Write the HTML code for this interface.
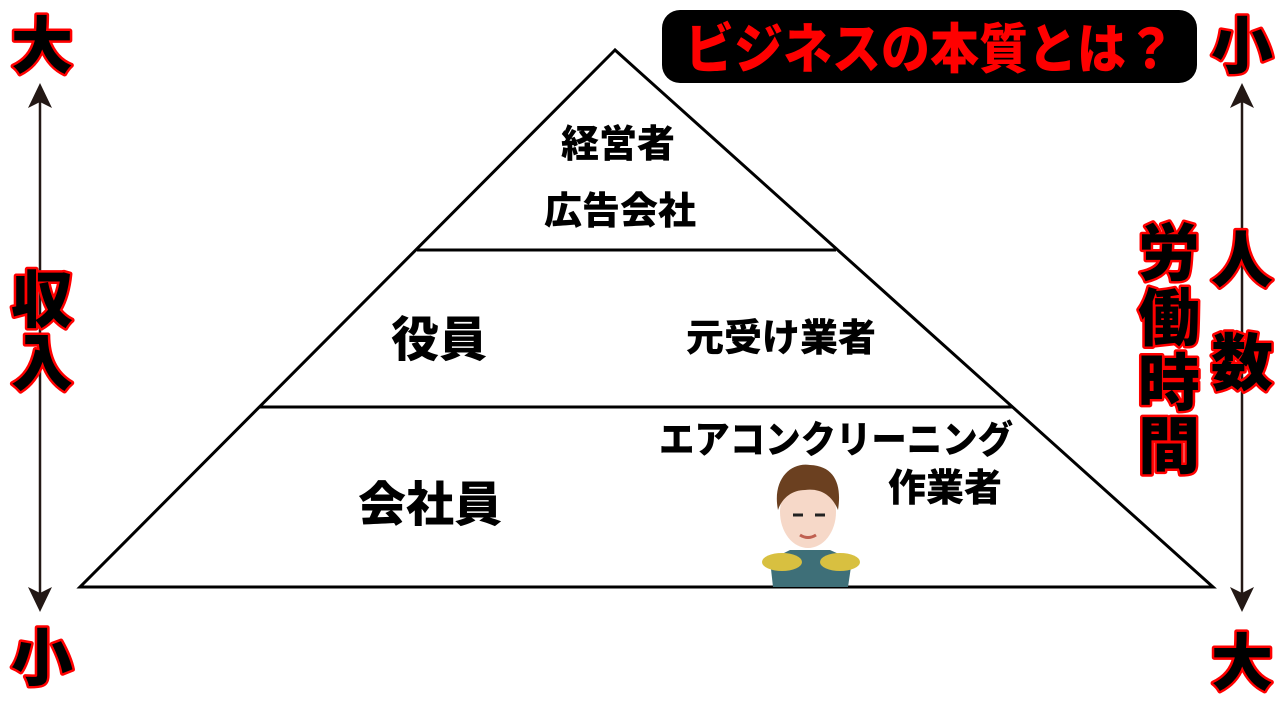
<!DOCTYPE html>
<html><head><meta charset="utf-8"><style>
html,body{margin:0;padding:0;background:#fff;}
svg{display:block;}
text{font-family:"Liberation Sans","Noto Sans CJK JP",sans-serif;font-weight:900;}
.side{font-size:62px;fill:#000;stroke:#f00;stroke-width:5px;paint-order:stroke;stroke-linejoin:round;}
.lbl{font-size:38px;fill:#000;}
.big{font-size:48px;fill:#000;}
</style></head><body>
<svg width="1280" height="720" viewBox="0 0 1280 720">
<polygon points="615,50 80,587 1213,587" fill="none" stroke="#000" stroke-width="3"/>
<line x1="417" y1="250" x2="836" y2="250" stroke="#000" stroke-width="3"/>
<line x1="260" y1="407" x2="1012" y2="407" stroke="#000" stroke-width="3"/>
<rect x="662" y="10" width="535" height="73" rx="18" fill="#000"/>
<text x="930" y="68" text-anchor="middle" font-size="54" fill="#f00" textLength="490" lengthAdjust="spacingAndGlyphs">ビジネスの本質とは？</text>
<line x1="40" y1="95" x2="40" y2="600" stroke="#231815" stroke-width="2.5"/>
<polygon points="40,83 28,108 40,102 52,108" fill="#231815"/>
<polygon points="40,612 28,587 40,593 52,587" fill="#231815"/>
<line x1="1242" y1="95" x2="1242" y2="600" stroke="#231815" stroke-width="2.5"/>
<polygon points="1242,83 1230,108 1242,102 1254,108" fill="#231815"/>
<polygon points="1242,612 1230,587 1242,593 1254,587" fill="#231815"/>
<text class="side" x="42" y="68" text-anchor="middle">大</text>
<text class="side" x="42" y="322" text-anchor="middle">収</text>
<text class="side" x="42" y="385" text-anchor="middle">入</text>
<text class="side" x="42" y="680" text-anchor="middle">小</text>
<text class="side" x="1242" y="68" text-anchor="middle">小</text>
<text class="side" x="1242" y="282" text-anchor="middle">人</text>
<text class="side" x="1242" y="385" text-anchor="middle">数</text>
<text class="side" x="1242" y="685" text-anchor="middle">大</text>
<text class="side" x="1169" y="275" text-anchor="middle">労</text>
<text class="side" x="1169" y="340" text-anchor="middle">働</text>
<text class="side" x="1169" y="405" text-anchor="middle">時</text>
<text class="side" x="1169" y="468" text-anchor="middle">間</text>
<text class="lbl" x="618" y="157" text-anchor="middle">経営者</text>
<text class="lbl" x="620" y="224" text-anchor="middle">広告会社</text>
<text class="big" x="439" y="356" text-anchor="middle">役員</text>
<text class="lbl" x="781" y="351" text-anchor="middle">元受け業者</text>
<text class="big" x="430" y="521" text-anchor="middle">会社員</text>
<text class="lbl" x="836" y="453" text-anchor="middle" textLength="354" lengthAdjust="spacingAndGlyphs">エアコンクリーニング</text>
<text class="lbl" x="945" y="501" text-anchor="middle">作業者</text>
<g>
<path d="M773,587 L770,560 L790,550 L830,550 L852,560 L848,587 Z" fill="#3e6f78"/>
<ellipse cx="782" cy="562" rx="20" ry="9" fill="#d8c040"/>
<ellipse cx="840" cy="562" rx="20" ry="9" fill="#d8c040"/>
<ellipse cx="808" cy="512" rx="28" ry="36" fill="#f6d8c8"/>
<path d="M778,510 C772,480 790,462 810,465 C835,466 842,485 838,510 C832,495 820,488 805,490 C792,490 782,498 778,510 Z" fill="#6b4020"/>
<line x1="793" y1="515" x2="803" y2="515" stroke="#222" stroke-width="3"/>
<line x1="815" y1="515" x2="825" y2="515" stroke="#222" stroke-width="3"/>
<path d="M800,535 Q808,540 816,535" stroke="#c06050" stroke-width="3" fill="none"/>
</g>
</svg>
</body></html>
